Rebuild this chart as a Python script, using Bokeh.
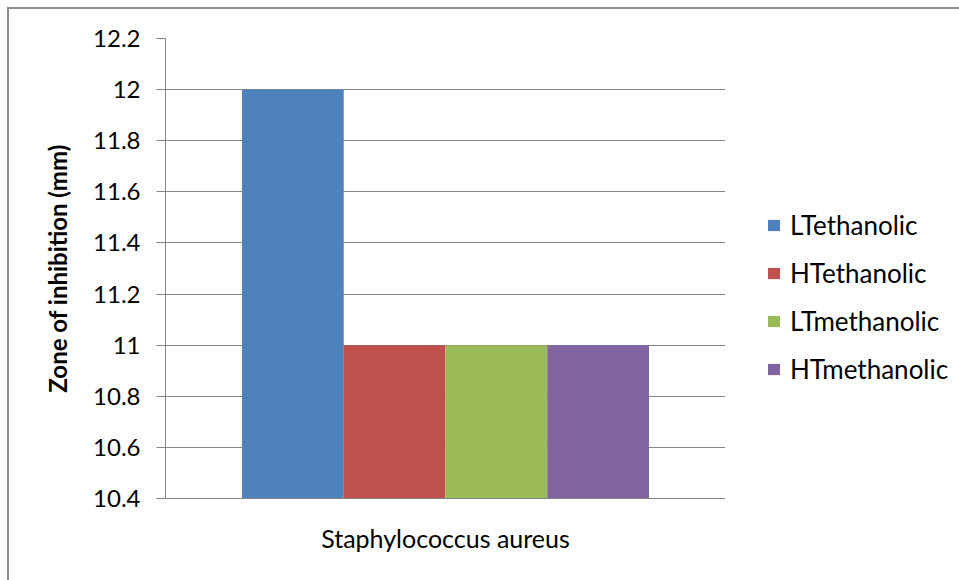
from bokeh.plotting import figure
from bokeh.layouts import row
from bokeh.models import (ColumnDataSource, FactorRange, Range1d, FixedTicker,
                          Legend, LegendItem)
from bokeh.transform import dodge
from bokeh.embed import file_html
from bokeh.resources import INLINE

# Zone of inhibition against Staphylococcus aureus for four extracts
organism = ["Staphylococcus aureus"]
extracts = ["LTethanolic", "HTethanolic", "LTmethanolic", "HTmethanolic"]
zone_mm = [12, 11, 11, 11]
colors = ["#4F81BD", "#C0504D", "#9BBB59", "#8064A2"]
y_ticks = [10.4, 10.6, 10.8, 11, 11.2, 11.4, 11.6, 11.8, 12, 12.2]
y_tick_labels = ["10.4", "10.6", "10.8", "11", "11.2", "11.4", "11.6", "11.8", "12", "12.2"]

FONT = "Lato"
FS = "24px"
GRID = "#868686"
HEIGHT = 571

p = figure(
    x_range=FactorRange(*organism),
    y_range=Range1d(y_ticks[0], y_ticks[-1]),
    width=716, height=HEIGHT,
    output_backend="svg", toolbar_location=None,
    min_border_left=156, min_border_right=0,
    min_border_top=29, min_border_bottom=82,
)
p.outline_line_color = None
p.background_fill_color = "white"
p.border_fill_color = "white"

bar_w = 0.1817
offsets = [-1.5 * bar_w, -0.5 * bar_w, 0.5 * bar_w, 1.5 * bar_w]
for val, col, off in zip(zone_mm, colors, offsets):
    src = ColumnDataSource(dict(x=organism, top=[val]))
    p.vbar(x=dodge("x", off, range=p.x_range), top="top", bottom=y_ticks[0],
           width=bar_w, source=src, fill_color=col, line_color=None)

# y axis
p.yaxis.ticker = FixedTicker(ticks=y_ticks)
p.yaxis.major_label_overrides = {t: s for t, s in zip(y_ticks, y_tick_labels)}
p.yaxis.axis_label = "Zone of inhibition (mm)"
p.yaxis.axis_label_text_font = FONT
p.yaxis.axis_label_text_font_style = "bold"
p.yaxis.axis_label_text_font_size = "24px"
p.yaxis.axis_label_text_color = "black"
p.yaxis.axis_label_standoff = 18
p.yaxis.major_label_text_font = FONT
p.yaxis.major_label_text_font_size = FS
p.yaxis.major_label_text_color = "black"
p.yaxis.major_label_standoff = 16
p.yaxis.major_tick_out = 9
p.yaxis.major_tick_in = 0
p.yaxis.minor_tick_line_color = None
p.yaxis.axis_line_color = GRID
p.yaxis.major_tick_line_color = GRID

# x axis
p.xaxis.major_label_text_font = FONT
p.xaxis.major_label_text_font_size = "25px"
p.xaxis.major_label_text_color = "black"
p.xaxis.major_label_standoff = 18
p.xaxis.major_tick_line_color = None
p.xaxis.axis_line_color = GRID

p.xgrid.grid_line_color = None
p.ygrid.grid_line_color = GRID
p.ygrid.grid_line_width = 1

# side panel holding the series legend
side = figure(
    x_range=FactorRange(*organism), y_range=Range1d(0, 1),
    width=234, height=HEIGHT,
    output_backend="svg", toolbar_location=None,
    min_border=0, x_axis_type=None, y_axis_type=None,
)
side.outline_line_color = None
side.grid.grid_line_color = None
side.background_fill_color = "white"
side.border_fill_color = "white"

items = []
for name, val, col in zip(extracts, zone_mm, colors):
    src = ColumnDataSource(dict(x=organism, top=[val]))
    r = side.vbar(x="x", top="top", bottom=y_ticks[0], width=bar_w,
                  source=src, fill_color=col, line_color=None, visible=False)
    items.append(LegendItem(label=name, renderers=[r]))

legend = Legend(
    items=items, location=(41, 113),
    label_text_font=FONT, label_text_font_size="26px", label_text_color="black",
    glyph_width=15, glyph_height=14, label_standoff=9,
    label_height=28, spacing=16, padding=0, margin=0,
    border_line_color=None, background_fill_alpha=0,
    inactive_fill_alpha=0,
)
side.add_layout(legend, "center")

layout = row(p, side)
# chart border (left and top edges; the rest runs off the page)
layout.styles = {
    "margin-left": "7px", "margin-top": "7px",
    "border-left": "2px solid #8c8c8c", "border-top": "2px solid #8c8c8c",
}

open("out.html", "w").write(file_html(layout, INLINE))
